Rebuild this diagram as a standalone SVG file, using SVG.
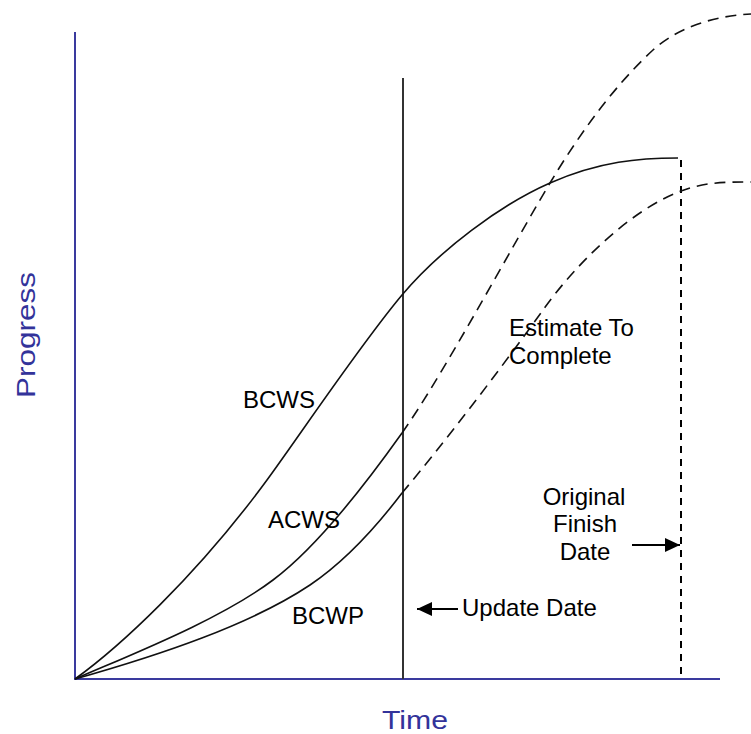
<svg xmlns="http://www.w3.org/2000/svg" width="751" height="734" viewBox="0 0 751 734">
  <style>
    .axis { stroke: #3a3a9e; stroke-width: 2; fill: none; }
    .axis-label { fill: #33339a; font-family: "Liberation Sans", Arial, sans-serif; font-size: 26px; }
    .curve { stroke: #111; stroke-width: 1.6; fill: none; }
    .forecast { stroke: #111; stroke-width: 1.6; fill: none; stroke-dasharray: 11 7; }
    .marker-line { stroke: #333; stroke-width: 2; fill: none; }
    .finish-line { stroke: #000; stroke-width: 2; fill: none; stroke-dasharray: 7 6; }
    .pointer { stroke: #000; stroke-width: 2; fill: none; }
    .label { fill: #000; font-family: "Liberation Sans", Arial, sans-serif; font-size: 24px; }
  </style>
  <defs>
    <marker id="arrowhead" viewBox="0 0 10 10" refX="10" refY="5" markerWidth="15" markerHeight="14" markerUnits="userSpaceOnUse" orient="auto" preserveAspectRatio="none">
      <path d="M0,0 L10,5 L0,10 Z" fill="#000"/>
    </marker>
  </defs>

  <rect width="751" height="734" fill="#fff"/>

  <!-- axes -->
  <g id="axes">
    <line class="axis" x1="75" y1="32" x2="75" y2="680"/>
    <line class="axis" x1="74" y1="679" x2="720" y2="679"/>
    <text class="axis-label" transform="translate(35,398) rotate(-90)" textLength="126" lengthAdjust="spacingAndGlyphs">Progress</text>
    <text class="axis-label" x="382" y="729" textLength="66" lengthAdjust="spacingAndGlyphs">Time</text>
  </g>

  <!-- date markers -->
  <g id="update-date">
    <line class="marker-line" x1="403" y1="78" x2="403" y2="679"/>
    <line class="pointer" x1="458" y1="609" x2="417" y2="609" marker-end="url(#arrowhead)"/>
    <text class="label" x="462" y="616">Update Date</text>
  </g>
  <g id="original-finish-date">
    <line class="finish-line" x1="681" y1="160" x2="681" y2="679"/>
    <line class="pointer" x1="632" y1="545" x2="680" y2="545" marker-end="url(#arrowhead)"/>
    <text class="label" text-anchor="middle" x="584" y="505">Original</text>
    <text class="label" text-anchor="middle" x="585" y="532">Finish</text>
    <text class="label" text-anchor="middle" x="585" y="560">Date</text>
  </g>

  <!-- progress curves -->
  <g id="connectors">
    <g id="bcws">
      <path class="curve" d="M75,679 C118,648 195,578 267,480 C300,435 360,345 402,295 C440,250 500,205 550,183 C600,161 640,158 678,158"/>
    </g>
    <g id="acws">
      <path class="curve" d="M75,679 C130,655 220,620 273,580 C320,545 370,478 402,433"/>
      <path class="forecast" d="M402,433 C440,380 510,250 550,183 C580,133 615,85 653,50 C680,26 715,16 751,14"/>
    </g>
    <g id="bcwp">
      <path class="curve" d="M75,679 C160,655 250,625 310,585 C350,558 380,522 402,493"/>
      <path class="forecast" d="M402,493 C440,448 500,370 543,310 C575,265 630,210 681,191 C705,182 725,182 751,182"/>
    </g>
  </g>

  <!-- curve labels -->
  <g id="curve-labels">
    <text class="label" x="243" y="408">BCWS</text>
    <text class="label" x="268" y="528">ACWS</text>
    <text class="label" x="292" y="624">BCWP</text>
    <text class="label" x="509" y="336">Estimate To</text>
    <text class="label" x="509" y="364">Complete</text>
  </g>
</svg>
